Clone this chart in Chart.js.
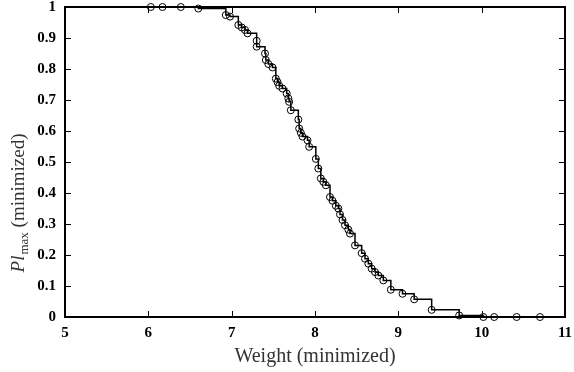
<!DOCTYPE html>
<html>
<head>
<meta charset="utf-8">
<script src="https://cdn.jsdelivr.net/npm/chart.js@4/dist/chart.umd.min.js"></script>
<style>
  html, body { margin: 0; padding: 0; background: #fff; }
  #wrap { position: relative; width: 574px; height: 372px; }
</style>
</head>
<body>
<div id="wrap"><canvas id="cvn"></canvas></div>
<script>
const weights = [6.03, 6.17, 6.39, 6.60, 6.93, 6.98, 7.08, 7.12, 7.16, 7.19,
  7.30, 7.30, 7.40, 7.41, 7.44, 7.49, 7.53, 7.55, 7.57, 7.61,
  7.66, 7.68, 7.69, 7.71, 7.80, 7.81, 7.83, 7.85, 7.91, 7.93,
  8.01, 8.04, 8.07, 8.10, 8.13, 8.18, 8.21, 8.25, 8.28, 8.30,
  8.33, 8.36, 8.40, 8.42, 8.48, 8.56, 8.60, 8.64, 8.68, 8.72,
  8.76, 8.82, 8.91, 9.05, 9.19, 9.40, 9.73, 10.02, 10.15, 10.42, 10.70];
const plMax = [1.00, 1.00, 1.00, 0.995, 0.974, 0.969, 0.942, 0.934, 0.926, 0.915,
  0.891, 0.872, 0.850, 0.829, 0.816, 0.805, 0.769, 0.758, 0.746, 0.737,
  0.721, 0.705, 0.694, 0.667, 0.637, 0.608, 0.594, 0.582, 0.570, 0.549,
  0.510, 0.479, 0.447, 0.436, 0.425, 0.387, 0.375, 0.359, 0.350, 0.331,
  0.313, 0.296, 0.282, 0.269, 0.231, 0.206, 0.188, 0.172, 0.156, 0.145,
  0.134, 0.118, 0.088, 0.075, 0.057, 0.023, 0.005, 0, 0, 0, 0];

const xTicks = [5, 6, 7, 8, 9, 10, 11];
const yTicks = [0, 0.1, 0.2, 0.3, 0.4, 0.5, 0.6, 0.7, 0.8, 0.9, 1];

const xTitle = "Weight (minimized)";
const yTitleMain = "Pl";
const yTitleSub = "max";
const yTitleRest = " (minimized)";

const points = weights.map((w, i) => ({ x: w, y: plMax[i] }));

// frame + inward ticks on all four sides (gnuplot look)
const frame = {
  id: "frame",
  afterDraw(chart) {
    const ctx = chart.ctx;
    const a = chart.chartArea;
    const sx = chart.scales.x, sy = chart.scales.y;
    const tl = 6;
    ctx.save();
    ctx.strokeStyle = "#000";
    ctx.lineWidth = 1;
    ctx.beginPath();
    xTicks.forEach(v => {
      const px = Math.round(sx.getPixelForValue(v)) + 0.5;
      ctx.moveTo(px, a.bottom); ctx.lineTo(px, a.bottom - tl);
      ctx.moveTo(px, a.top); ctx.lineTo(px, a.top + tl);
    });
    yTicks.forEach(v => {
      const py = Math.round(sy.getPixelForValue(v)) + 0.5;
      ctx.moveTo(a.left, py); ctx.lineTo(a.left + tl, py);
      ctx.moveTo(a.right, py); ctx.lineTo(a.right - tl, py);
    });
    ctx.stroke();
    ctx.lineWidth = 2;
    ctx.strokeRect(a.left, a.top, a.right - a.left, a.bottom - a.top);

    // y axis title with italic Pl and subscript max
    const big = 19, small = 13;
    const fMain = "italic " + big + "px 'Liberation Serif'";
    const fSub = small + "px 'Liberation Serif'";
    const fRest = big + "px 'Liberation Serif'";
    ctx.font = fMain; const w1 = ctx.measureText(yTitleMain).width;
    ctx.font = fSub; const w2 = ctx.measureText(yTitleSub).width;
    ctx.font = fRest; const w3 = ctx.measureText(yTitleRest).width;
    const total = w1 + 1 + w2 + w3;
    ctx.translate(24, 203);
    ctx.rotate(-Math.PI / 2);
    ctx.fillStyle = "#333";
    ctx.textBaseline = "alphabetic";
    ctx.textAlign = "left";
    let cx = -total / 2;
    ctx.font = fMain; ctx.fillText(yTitleMain, cx, 0); cx += w1 + 1;
    ctx.font = fSub; ctx.fillText(yTitleSub, cx, 4); cx += w2;
    ctx.font = fRest; ctx.fillText(yTitleRest, cx, 0);
    ctx.restore();
  }
};

const tickFont = { family: "'Liberation Serif'", size: 15, weight: "bold" };

new Chart(document.getElementById("cvn").getContext("2d"), {
  type: "scatter",
  data: {
    datasets: [{
      data: points,
      showLine: true,
      stepped: "before",
      borderColor: "#000",
      borderWidth: 1.5,
      pointStyle: "circle",
      pointRadius: 3.5,
      pointBorderWidth: 1,
      pointBorderColor: "#000",
      pointBackgroundColor: "rgba(0,0,0,0)",
      clip: false,
    }],
  },
  options: {
    responsive: true,
    maintainAspectRatio: false,
    animation: false,
    layout: { padding: { left: 0, right: 9, top: 7, bottom: 0 } },
    plugins: { legend: { display: false }, tooltip: { enabled: false } },
    scales: {
      x: {
        type: "linear",
        min: 5, max: 11,
        afterBuildTicks: s => { s.ticks = xTicks.map(v => ({ value: v })); },
        afterFit: s => { s.height = 55; s.paddingLeft = 0; s.paddingRight = 0; },
        grid: { display: false, drawTicks: false },
        border: { display: false },
        ticks: { color: "#000", font: tickFont, padding: 7 },
        title: {
          display: true,
          text: xTitle,
          color: "#333",
          font: { family: "'Liberation Serif'", size: 20 },
          padding: { top: 0, bottom: 3 },
        },
      },
      y: {
        type: "linear",
        min: 0, max: 1,
        afterBuildTicks: s => { s.ticks = yTicks.map(v => ({ value: v })); },
        afterFit: s => { s.width = 65; s.paddingTop = 0; s.paddingBottom = 0; },
        grid: { display: false, drawTicks: false },
        border: { display: false },
        ticks: { color: "#000", font: tickFont, padding: 9, callback: v => String(v) },
      },
    },
  },
  plugins: [frame],
});
</script>
</body>
</html>
